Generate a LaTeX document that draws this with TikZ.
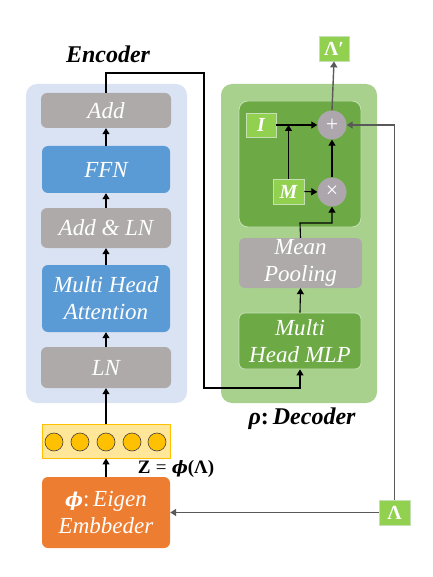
\documentclass[tikz,border=0pt]{standalone}
\usepackage{fontspec}
\setmainfont{Liberation Serif}
\newfontfamily\dvs{DejaVu Serif}
\usetikzlibrary{arrows.meta}
\definecolor{encbg}{HTML}{DAE3F3}
\definecolor{bluec}{HTML}{5B9BD5}
\definecolor{grayc}{HTML}{AEAAAA}
\definecolor{opc}{HTML}{ADA6AD}
\definecolor{yelfill}{HTML}{FFE699}
\definecolor{yelbord}{HTML}{FFC000}
\definecolor{dotc}{HTML}{FFC000}
\definecolor{orangec}{HTML}{ED7D31}
\definecolor{decbg}{HTML}{A9D18E}
\definecolor{dkgreen}{HTML}{6DAA45}
\definecolor{lgreen}{HTML}{92D050}
\definecolor{lborder}{HTML}{C5E0B4}
\definecolor{linec}{HTML}{595959}
\tikzset{
  blk/.style={rectangle, rounded corners=6pt, inner sep=0pt, text=white,
    font=\fontsize{23}{27}\selectfont\itshape, align=center},
  graybox/.style={blk, fill=grayc},
  bluebox/.style={blk, fill=bluec},
  greenbox/.style={blk, fill=dkgreen, draw=lborder, line width=0.8pt},
  sq/.style={rectangle, fill=lgreen, draw=lborder, line width=0.8pt, inner sep=0pt,
    text=white, font=\fontsize{20}{24}\selectfont\bfseries},
  op/.style={circle, fill=opc, minimum size=29pt, inner sep=0pt, text=white,
    font=\fontsize{22}{24}\selectfont},
  panel/.style={rectangle, rounded corners=11pt, inner sep=0pt},
  dot/.style={circle, fill=dotc, draw=black!75, line width=0.6pt, minimum size=18pt, inner sep=0pt},
  conn/.style={line width=1.1pt, draw=black, -{Triangle[length=6pt,width=7pt]}},
  gconn/.style={line width=1.4pt, draw=linec, -{Triangle[length=6pt,width=7pt]}},
  title/.style={font=\fontsize{24}{28}\selectfont\bfseries\itshape}
}
\begin{document}
\begin{tikzpicture}[x=1pt,y=-1pt]
\useasboundingbox (0,0) rectangle (432,577);
% panels
\node[panel, fill=encbg, minimum width=161pt, minimum height=319pt] (encp) at (106.5,243.5) {};
\node[panel, fill=decbg, minimum width=156pt, minimum height=319pt] (decp) at (299,243.5) {};
\node[rectangle, rounded corners=9pt, fill=dkgreen, draw=lborder, line width=0.8pt,
  minimum width=122pt, minimum height=126pt] (inner) at (300,164) {};
% encoder
\node[graybox, minimum width=130pt, minimum height=35pt] (add) at (106,110.5) {Add};
\node[bluebox, minimum width=128pt, minimum height=47pt] (ffn) at (106,169.5) {FFN};
\node[graybox, minimum width=130pt, minimum height=40pt] (addln) at (106,228) {Add \& LN};
\node[bluebox, minimum width=128pt, minimum height=67pt] (mha) at (106,298.5) {Multi Head\\Attention};
\node[graybox, minimum width=130pt, minimum height=41pt] (ln) at (106,367.5) {LN};
\node[title] (enct) at (108,54) {Encoder};
% vector
\node[rectangle, fill=yelfill, draw=yelbord, line width=0.8pt, minimum width=128pt,
  minimum height=34pt, inner sep=0pt] (vec) at (106,441) {};
\foreach \cx in {54,80,106,132,157} {\node[dot] (c\cx) at (\cx,442) {};}
\node[font=\fontsize{19}{22}\selectfont] (zlab) at (176,469)
  {{\bfseries Z}\;=\;{\dvs\fontsize{17}{20}\selectfont\bfseries\itshape ϕ}{\bfseries(Λ)}};
% embedder
\node[blk, fill=orangec, minimum width=128pt, minimum height=71pt] (emb) at (106,512.5)
  {{\dvs\fontsize{19}{27}\selectfont\bfseries\itshape ϕ}\upshape:\itshape\,Eigen\\Embbeder};
% decoder
\node[title] (dect) at (302,419) {ρ{\upshape:}\,Decoder};
\node[greenbox, minimum width=122pt, minimum height=56pt] (mlp) at (300,341) {Multi\\Head MLP};
\node[graybox, minimum width=123pt, minimum height=50pt] (pool) at (300.5,263) {Mean\\Pooling};
\node[sq, minimum width=30pt, minimum height=24pt] (ibox) at (261,125) {\itshape I};
\node[sq, minimum width=31pt, minimum height=25pt] (mbox) at (288.5,191.5) {\itshape M};
\node[op] (plus) at (332,125) {+};
\node[op] (times) at (332,192) {×};
\node[sq, minimum width=30pt, minimum height=25pt] (lamp) at (334,48.5) {Λ′};
\node[sq, minimum width=31pt, minimum height=25pt] (lam) at (394.5,512.5) {Λ};
% coordinates
\coordinate (r1) at (204,73);
\coordinate (r2) at (204,388);
\coordinate (k1) at (300,223);
% encoder arrows
\draw[conn] (emb.north) -- (vec.south);
\draw[conn] (vec.north) -- (ln.south);
\draw[conn] (ln.north) -- (mha.south);
\draw[conn] (mha.north) -- (addln.south);
\draw[conn] (addln.north) -- (ffn.south);
\draw[conn] (ffn.north) -- (add.south);
\draw[conn] (add.north) |- (r1) -- (r2) -| (mlp.south);
% decoder arrows
\draw[conn] (mlp.north) -- (pool.south);
\draw[conn] (pool.north) -- (k1) -| (times.south);
\draw[conn] (mbox.east) -- (times.west);
\draw[conn] (ibox.east) -- (plus.west);
\draw[conn] (mbox.north) -- (mbox.north |- ibox.east);
\draw[conn] (times.north) -- (plus.south);
\draw[gconn] (plus.north) -- (lamp.south);
\draw[gconn] (lam.north) |- (plus.east);
\draw[gconn] (lam.west) -- (emb.east);
\end{tikzpicture}
\end{document}
